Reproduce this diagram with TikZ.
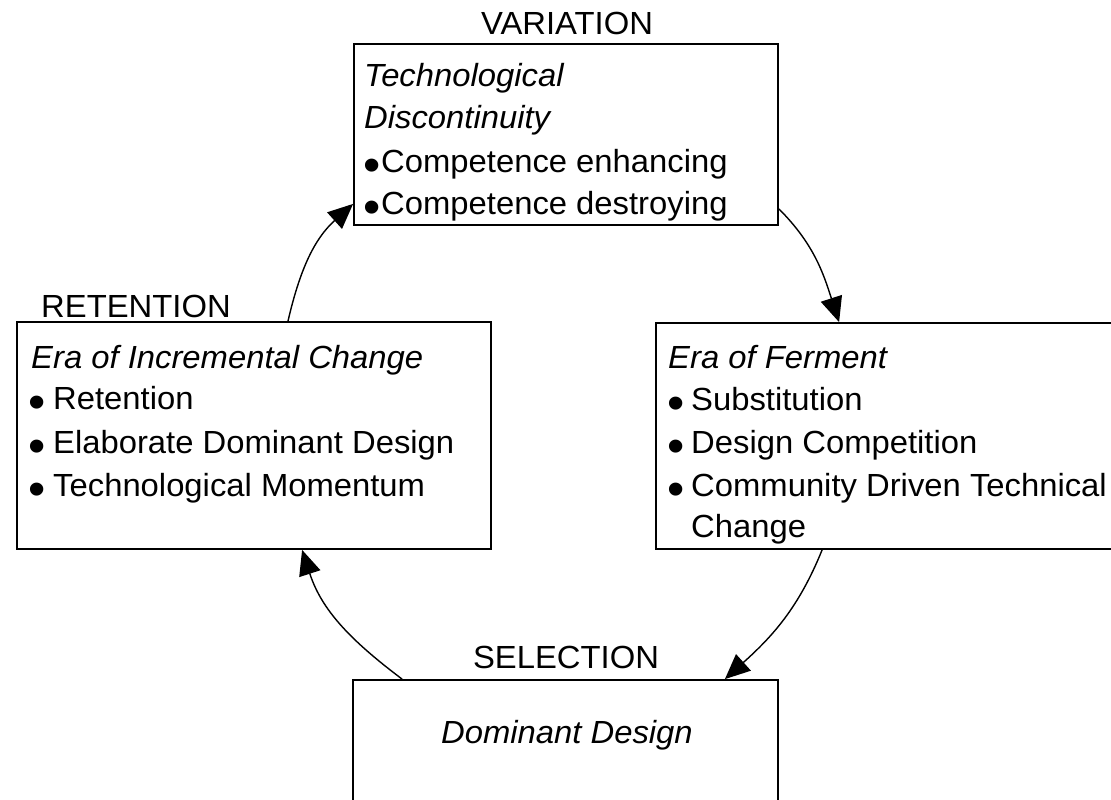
\documentclass[tikz,border=0pt]{standalone}
\usepackage{fontspec}
\setmainfont{Liberation Sans}[FakeStretch=1.025]
\usetikzlibrary{arrows.meta}
\newcommand\bul{\smash{\raisebox{-9pt}{\fontsize{48}{48}\selectfont •}}}
\tikzset{
  box/.style={draw=black, line width=1.8pt, rectangle, inner sep=0pt},
  txt/.style={anchor=base west, inner sep=0pt, font=\fontsize{32}{40}\selectfont},
  ctxt/.style={anchor=base, inner sep=0pt, font=\fontsize{32}{40}\selectfont},
  arr/.style={draw=black, line width=1.4pt, -{Triangle[length=25pt,width=22pt]}}
}
\begin{document}
\begin{tikzpicture}[x=1pt,y=-1pt]
\useasboundingbox (0,0) rectangle (1111,800);
\clip (0,0) rectangle (1111,800);
\fill[white] (0,0) rectangle (1111,800);
% boxes
\node[box, minimum width=424pt, minimum height=181pt] (top) at (566,134.5) {};
\node[box, minimum width=474pt, minimum height=227pt] (left) at (254,435.5) {};
\node[box, minimum width=480pt, minimum height=226pt] (right) at (896,436) {};
\node[box, minimum width=425pt, minimum height=160pt] (bottom) at (565.5,760) {};
% headings
\node[ctxt] (hvar) at (567,35) {VARIATION};
\node[txt] (hret) at (41,317) {RETENTION};
\node[ctxt] (hsel) at (566,668) {SELECTION};
% top box text
\node[txt] (t1) at (364,87) {\itshape Technological};
\node[txt] (t2) at (364,128) {\itshape Discontinuity};
\node[txt] (t3) at (363,172) {\makebox[18pt][l]{\bul}Competence enhancing};
\node[txt] (t4) at (363,214) {\makebox[18pt][l]{\bul}Competence destroying};
% left box text
\node[txt] (l1) at (31,368) {\itshape Era of Incremental Change};
\node[txt] (l2) at (28,409) {\makebox[25pt][l]{\bul}Retention};
\node[txt] (l3) at (28,453) {\makebox[25pt][l]{\bul}Elaborate Dominant Design};
\node[txt] (l4) at (28,496) {\makebox[25pt][l]{\bul}Technological Momentum};
% right box text
\node[txt] (r1) at (668,368) {\itshape Era of Ferment};
\node[txt] (r2) at (667,410) {\makebox[24pt][l]{\bul}Substitution};
\node[txt] (r3) at (667,453) {\makebox[24pt][l]{\bul}Design Competition};
\node[txt] (r4) at (667,496) {\makebox[24pt][l]{\bul}Community Driven Technical};
\node[txt] (r5) at (691,537) {Change};
% bottom box text
\node[ctxt] (b1) at (567,743) {\itshape Dominant Design};
% connectors
\draw[arr] ([xshift=34pt]left.north) to[out=77, in=222] ([yshift=22pt]top.south west);
\draw[arr] ([yshift=17pt]top.south east) to[out=-45, in=108] ([xshift=184pt]right.north west);
\draw[arr] ([xshift=167pt]right.south west) to[out=-112, in=42] ([xshift=-54pt]bottom.north east);
\draw[arr] ([xshift=50pt]bottom.north west) to[out=143, in=-72] ([xshift=286pt]left.south west);
\end{tikzpicture}
\end{document}
